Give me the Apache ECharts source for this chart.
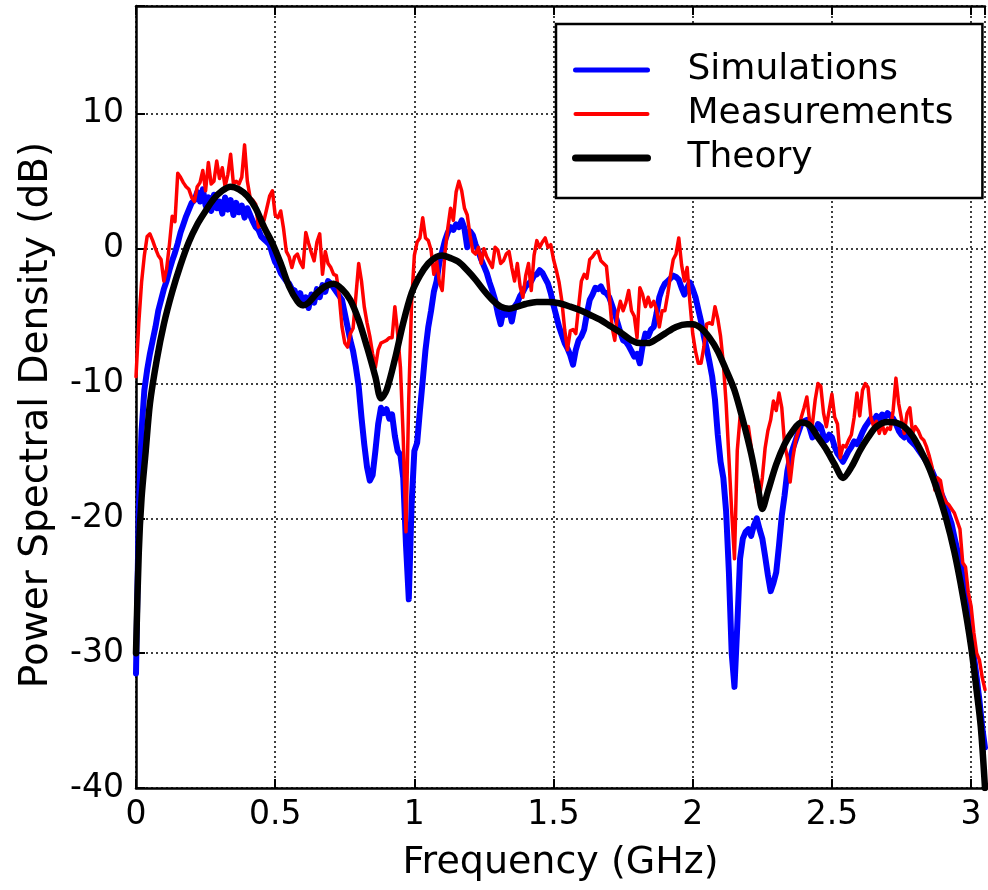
<!DOCTYPE html>
<html>
<head>
<meta charset="utf-8">
<script src="https://cdn.jsdelivr.net/npm/echarts@6/dist/echarts.min.js"></script>
<style>
html,body{margin:0;padding:0;background:#fff;}
#chart{width:988px;height:890px;}
</style>
</head>
<body>
<div id="chart"></div>
<script>
// ---- Data ----
const seriesNames = ['Simulations', 'Measurements', 'Theory'];
const xTicks = ['0', '0.5', '1', '1.5', '2', '2.5', '3'];
const yTicks = ['-40', '-30', '-20', '-10', '0', '10'];

// Sampled spectra, one value every 0.01 GHz starting at 0 GHz (dB)
const sampleStartGHz = 0;
const sampleStepGHz = 0.01;

const simulations = [
 -31.5,-19.5,-13.5,-10.5,-9.0,-7.8,-6.8,-5.8,-4.6,-3.8,
 -3.0,-2.4,-1.6,-0.9,-0.3,0.4,1.2,1.8,2.4,2.9,
 3.4,3.6,4.2,3.5,4.4,3.2,3.8,2.8,4.0,3.0,
 3.5,2.6,3.8,2.9,3.6,2.5,3.4,2.7,3.2,2.3,
 3.0,2.5,2.0,1.6,1.4,0.9,0.7,0.5,0.3,-0.4,
 -1.0,-1.3,-1.8,-2.1,-2.4,-2.6,-3.0,-3.1,-3.8,-3.3,
 -4.2,-3.6,-4.4,-3.4,-4.0,-3.0,-3.6,-2.7,-3.2,-2.4,
 -2.6,-2.9,-3.2,-3.5,-3.8,-4.8,-5.8,-6.8,-7.6,-8.8,
 -10.2,-12.5,-14.5,-16.2,-17.2,-16.8,-15.0,-13.0,-11.8,-12.2,
 -11.9,-12.6,-12.3,-13.9,-15.0,-15.3,-17.0,-22.0,-26.0,-19.0,
 -15.0,-14.4,-12.0,-9.8,-7.5,-5.8,-4.6,-3.2,-2.4,-1.0,
 -0.2,0.6,1.2,1.6,1.4,1.8,1.6,2.1,1.5,0.1,
 1.3,1.0,0.3,-0.2,-0.8,-1.3,-1.8,-2.5,-3.1,-3.8,
 -4.8,-5.6,-4.6,-4.9,-4.5,-5.4,-4.3,-4.0,-3.5,-3.2,
 -2.8,-2.6,-2.4,-2.0,-1.9,-1.6,-1.8,-2.2,-2.6,-3.3,
 -4.2,-5.0,-5.8,-6.4,-7.0,-7.4,-7.9,-8.6,-7.5,-6.8,
 -6.5,-6.0,-4.8,-3.8,-3.4,-2.9,-3.0,-2.8,-3.2,-3.3,
 -3.6,-4.2,-4.8,-5.5,-6.2,-6.8,-6.9,-7.2,-7.6,-8.0,
 -7.8,-8.5,-7.2,-6.3,-6.5,-6.0,-5.8,-4.8,-3.6,-3.0,
 -2.6,-2.4,-2.2,-2.0,-2.1,-2.3,-2.9,-3.4,-2.9,-2.5,
 -3.0,-3.6,-4.5,-5.4,-6.5,-7.4,-8.4,-9.5,-11.2,-13.8,
 -15.8,-17.0,-19.5,-24.0,-30.0,-32.5,-28.0,-23.0,-21.5,-21.0,
 -20.8,-21.3,-20.5,-20.0,-20.8,-21.5,-22.8,-24.2,-25.4,-24.8,
 -24.0,-22.0,-19.8,-18.3,-16.5,-15.5,-14.8,-14.2,-13.6,-13.0,
 -12.8,-12.7,-13.3,-14.0,-13.6,-13.0,-13.2,-13.9,-14.2,-13.8,
 -14.0,-14.7,-15.2,-15.5,-15.8,-15.4,-15.0,-14.7,-14.3,-14.5,
 -14.1,-13.6,-13.2,-12.9,-12.6,-12.8,-12.4,-12.7,-12.3,-12.5,
 -12.2,-12.4,-12.6,-13.0,-13.5,-13.8,-14.0,-13.6,-14.2,-14.4,
 -14.6,-14.9,-15.2,-15.5,-15.8,-16.1,-16.5,-17.0,-17.6,-18.0,
 -18.5,-19.0,-19.8,-20.4,-21.4,-22.3,-23.2,-24.3,-25.5,-27.0,
 -28.7,-30.2,-31.8,-33.5,-35.5,-37.0
];

const measurements = [
 -9.5,-5.5,-2.5,-0.5,0.9,1.1,0.6,0.0,-0.5,-0.8,
 -2.4,-1.5,0.3,2.4,2.0,5.6,5.3,4.9,4.6,4.4,
 3.8,3.5,4.6,4.9,5.8,4.3,6.4,4.8,5.0,6.5,
 5.2,6.0,4.6,5.5,7.0,4.8,5.0,4.8,5.3,7.7,
 5.0,3.8,3.6,3.3,1.6,1.8,2.1,3.0,3.9,4.3,
 2.5,2.3,2.8,1.5,-0.2,-0.6,-1.4,-0.6,-0.4,-1.0,
 -1.4,1.2,0.4,-0.3,-0.9,0.5,1.1,-1.9,-0.2,-1.1,
 -1.4,-1.9,-2.0,-3.5,-5.8,-7.0,-7.3,-6.3,-5.9,-3.5,
 -1.1,-2.4,-4.3,-5.5,-6.5,-7.8,-8.8,-7.5,-7.0,-6.9,
 -6.8,-6.6,-6.6,-4.3,-6.3,-8.8,-14.0,-21.0,-11.0,-4.0,
 -0.5,0.5,0.8,2.3,0.8,0.6,-0.1,-1.9,-0.9,-2.5,
 -3.1,-0.3,1.5,3.0,2.1,4.2,5.0,4.3,3.0,2.5,
 1.0,-0.2,-0.4,0.1,-1.1,0.0,-0.6,-1.0,-1.4,0.1,
 -0.1,-1.1,-0.9,-0.4,-0.2,-1.4,-2.4,-1.1,-2.8,-3.6,
 -2.0,-1.1,-3.1,-0.5,0.6,0.1,0.5,0.8,0.1,0.3,
 -0.8,-1.6,-2.5,-3.9,-6.0,-7.5,-6.1,-6.0,-6.3,-4.3,
 -2.4,-1.9,-2.2,-0.8,-0.6,-0.3,-0.2,-0.9,-1.1,-1.3,
 -3.4,-5.8,-6.8,-4.8,-3.9,-4.6,-4.0,-3.1,-4.6,-5.0,
 -6.6,-2.9,-3.4,-4.3,-3.6,-4.3,-3.9,-4.5,-5.8,-4.6,
 -4.6,-3.4,-2.0,-0.8,-0.4,0.8,-1.2,-2.4,-1.4,-4.0,
 -6.3,-7.6,-8.5,-8.5,-7.3,-5.6,-5.5,-5.6,-4.3,-5.2,
 -6.5,-8.5,-11.5,-15.5,-19.5,-23.0,-15.0,-12.5,-12.8,-13.6,
 -13.2,-14.7,-16.5,-18.0,-18.4,-17.0,-14.8,-13.5,-12.7,-11.3,
 -12.0,-10.7,-11.8,-14.5,-15.5,-17.3,-15.5,-14.2,-13.5,-12.5,
 -11.8,-11.0,-12.8,-13.0,-11.2,-10.0,-10.2,-12.2,-13.2,-12.0,
 -10.8,-12.5,-13.0,-15.5,-14.6,-14.7,-14.2,-13.8,-12.5,-10.7,
 -12.4,-10.5,-10.0,-10.3,-12.5,-13.2,-12.8,-13.7,-13.0,-13.7,
 -13.3,-13.4,-12.0,-9.6,-11.5,-12.6,-13.7,-12.2,-11.8,-13.7,
 -13.2,-13.5,-14.0,-14.2,-14.7,-15.4,-16.2,-17.9,-17.0,-17.2,
 -18.4,-18.8,-19.0,-19.3,-19.6,-20.2,-20.8,-23.3,-23.6,-25.5,
 -26.5,-28.5,-30.0,-30.5,-31.8,-32.7
];

// Theory curve: [frequency GHz, dB]
const theory = [
 [0,-30],[0.01,-22.5],[0.02,-18.5],[0.035,-15],[0.05,-11.5],[0.075,-8.2],[0.1,-5.6],
 [0.13,-3.2],[0.16,-1.2],[0.19,0.5],[0.22,1.8],[0.25,2.8],[0.28,3.7],[0.31,4.3],
 [0.34,4.6],[0.37,4.4],[0.4,3.9],[0.43,3.0],[0.46,1.6],[0.49,0.4],[0.52,-1.1],
 [0.55,-2.8],[0.58,-3.9],[0.6,-4.2],[0.62,-4.0],[0.65,-3.3],[0.68,-2.8],[0.71,-2.6],
 [0.74,-3.0],[0.77,-3.8],[0.8,-5.3],[0.83,-7.3],[0.86,-9.5],[0.88,-11.1],[0.9,-10.5],
 [0.93,-8.2],[0.96,-5.5],[0.99,-3.3],[1.02,-2.0],[1.05,-1.1],[1.08,-0.6],[1.1,-0.5],
 [1.13,-0.7],[1.16,-1.0],[1.19,-1.6],[1.22,-2.3],[1.25,-3.1],[1.28,-3.8],[1.31,-4.3],
 [1.34,-4.45],[1.37,-4.3],[1.4,-4.1],[1.44,-3.95],[1.48,-3.95],[1.52,-4.05],[1.56,-4.3],
 [1.6,-4.6],[1.63,-4.9],[1.67,-5.3],[1.7,-5.7],[1.74,-6.2],[1.78,-6.8],[1.81,-7.0],
 [1.84,-7.0],[1.87,-6.7],[1.9,-6.3],[1.94,-5.8],[1.98,-5.6],[2.0,-5.6],[2.03,-5.9],
 [2.06,-6.6],[2.09,-7.6],[2.12,-9.0],[2.15,-10.5],[2.18,-12.7],[2.21,-15.2],[2.235,-17.8],
 [2.25,-19.3],[2.27,-18.0],[2.3,-16.0],[2.33,-14.5],[2.36,-13.5],[2.39,-12.9],[2.42,-13.1],
 [2.45,-14.0],[2.48,-14.9],[2.51,-16.0],[2.54,-17.0],[2.57,-16.2],[2.6,-15.0],[2.63,-14.0],
 [2.66,-13.2],[2.7,-12.85],[2.73,-12.9],[2.76,-13.2],[2.79,-13.9],[2.82,-15.0],[2.85,-16.3],
 [2.88,-18.0],[2.91,-20.0],[2.94,-22.5],[2.97,-25.7],[3.0,-29.5],[3.02,-32.8],[3.035,-35.5],
 [3.05,-40]
];

// ---- Build series tables ----
function sampled(values) {
  return values.map((v, i) => [+(sampleStartGHz + i * sampleStepGHz).toFixed(3), v]);
}

const FONT = 'DejaVu Sans';
const chart = echarts.init(document.getElementById('chart'), null, {renderer: 'canvas'});

function onTick(v, step) {
  const r = v / step;
  return Math.abs(r - Math.round(r)) < 1e-6;
}

const gridLine = {show: true, lineStyle: {color: '#000', width: 1.5, type: [2, 3]}};
const colors = ['#0000ff', '#ff0000', '#000000'];
const legendWidths = [5, 4, 7];

chart.setOption({
  animation: false,
  backgroundColor: '#fff',
  grid: {left: 136, right: 0, top: 6, bottom: 102, containLabel: false},
  legend: {
    orient: 'vertical',
    left: 556, top: 24,
    padding: [28, 29, 22, 16],
    itemGap: 8,
    itemWidth: 72,
    itemHeight: 14,
    borderColor: '#000',
    borderWidth: 2.5,
    backgroundColor: '#fff',
    itemStyle: {opacity: 0},
    data: seriesNames.map((n, i) => ({
      name: n,
      itemStyle: {opacity: 0},
      lineStyle: {color: colors[i], width: legendWidths[i], cap: 'round', opacity: 1}
    })),
    textStyle: {fontFamily: FONT, fontSize: 36, color: '#000', padding: [0, 0, 0, 35]}
  },
  xAxis: [{
    type: 'value', min: 0, max: 3.05, interval: 0.5,
    name: 'Frequency (GHz)', nameLocation: 'middle', nameGap: 56,
    nameTextStyle: {fontFamily: FONT, fontSize: 38, color: '#000'},
    axisLine: {show: true, onZero: false, lineStyle: {color: '#000', width: 2.5}},
    axisTick: {show: true, inside: true, length: 9, lineStyle: {color: '#000', width: 2}},
    axisLabel: {fontFamily: FONT, fontSize: 33, color: '#000', margin: 11,
      formatter: v => onTick(v, 0.5) ? xTicks[Math.round(v / 0.5)] : ''},
    splitLine: gridLine
  }, {
    type: 'value', position: 'top', min: 0, max: 3.05, interval: 0.5,
    axisLine: {show: true, onZero: false, lineStyle: {color: '#000', width: 2.5}},
    axisTick: {show: true, inside: true, length: 9, lineStyle: {color: '#000', width: 2}},
    axisLabel: {show: false}, splitLine: {show: false}
  }],
  yAxis: {
    type: 'value', min: -40, max: 18, interval: 10,
    name: 'Power Spectral Density (dB)', nameLocation: 'middle', nameGap: 80,
    nameTextStyle: {fontFamily: FONT, fontSize: 39, color: '#000', padding: [0, 36, 0, 0]},
    axisLine: {show: true, onZero: false, lineStyle: {color: '#000', width: 2.5}},
    axisTick: {show: true, inside: true, length: 9, lineStyle: {color: '#000', width: 2}},
    axisLabel: {fontFamily: FONT, fontSize: 33, color: '#000', margin: 12,
      formatter: v => onTick(v, 10) ? yTicks[Math.round((v + 40) / 10)] : ''},
    splitLine: gridLine
  },
  series: [{
    name: seriesNames[0], type: 'line', data: sampled(simulations), showSymbol: false, symbol: 'none',
    lineStyle: {color: colors[0], width: 6, cap: 'round', join: 'round'}, itemStyle: {color: colors[0]}, z: 2
  }, {
    name: seriesNames[1], type: 'line', data: sampled(measurements), showSymbol: false, symbol: 'none',
    lineStyle: {color: colors[1], width: 3.5, cap: 'round', join: 'round'}, itemStyle: {color: colors[1]}, z: 3
  }, {
    name: seriesNames[2], type: 'line', data: theory, showSymbol: false, symbol: 'none', smooth: 0.3,
    lineStyle: {color: colors[2], width: 6.5, cap: 'round', join: 'round'}, itemStyle: {color: colors[2]}, z: 4
  }]
});
</script>
</body>
</html>
